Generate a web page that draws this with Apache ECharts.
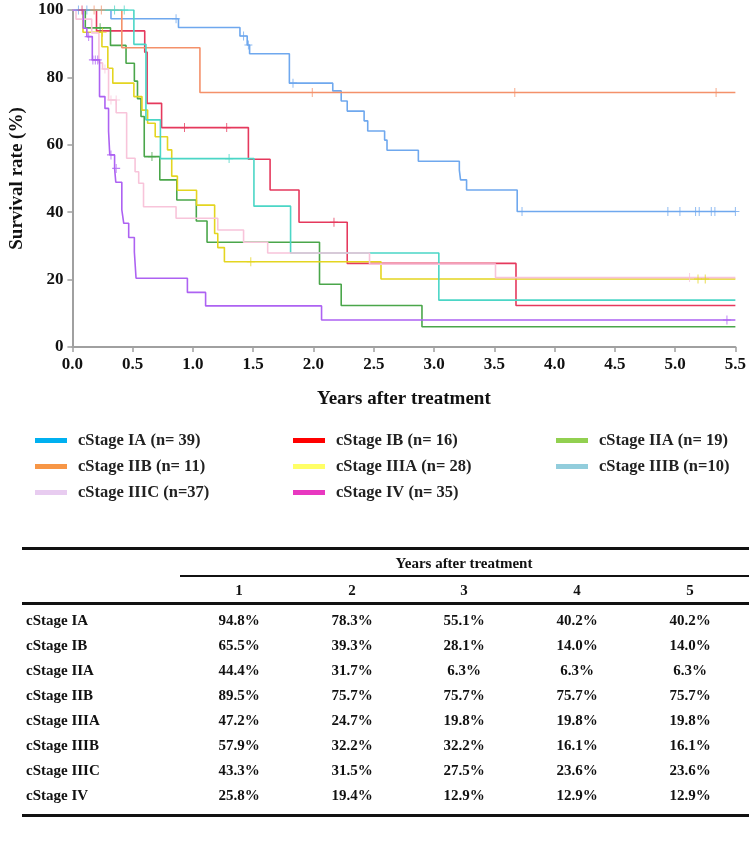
<!DOCTYPE html>
<html>
<head>
<meta charset="utf-8">
<script src="https://cdn.jsdelivr.net/npm/echarts@6/dist/echarts.min.js"></script>
<style>
  html, body { margin:0; padding:0; background:#fff; }
  #wrap { position:relative; width:749px; height:850px; overflow:hidden; }
  #chart { position:absolute; left:0; top:0; width:749px; height:850px; }
  #table { position:absolute; left:0; top:0; width:749px; height:850px; pointer-events:none;
           font-family:"Liberation Serif","Times New Roman",serif; font-weight:bold; font-size:15px; color:#111; }
  .t { position:absolute; white-space:nowrap; line-height:1; }
  .c { transform:translateX(-50%); }
  .hl { position:absolute; background:#111; }
</style>
</head>
<body>
<div id="wrap">
  <div id="chart"></div>
  <div id="table"></div>
</div>
<script>
// ---------------- data ----------------
const xTicks = ['0.0','0.5','1.0','1.5','2.0','2.5','3.0','3.5','4.0','4.5','5.0','5.5'];
const legendNames = ['cStage IA (n= 39)','cStage IB (n= 16)','cStage IIA (n= 19)','cStage IIB (n= 11)',
                     'cStage IIIA (n= 28)','cStage IIIB (n=10)','cStage IIIC (n=37)','cStage IV (n= 35)'];
const legendColors = ['#00b0f0','#ff0000','#92d050','#f79646','#ffff66','#92cddc','#e8ccf0','#e838c0'];
const curveColors  = ['#6fa8ee','#e5395d','#4aa64a','#f4916a','#e4d520','#4bd6c6','#f8c4da','#ad62f2'];

// Kaplan-Meier steps: [years, survival %]
const kmIA   = [[0,100],[0.32,97.4],[0.88,94.8],[1.39,92.3],[1.45,89.6],[1.47,87.0],[1.80,78.3],[2.16,76.0],[2.23,73.0],
                [2.28,70.0],[2.42,67.1],[2.45,64.1],[2.59,61.4],[2.61,58.4],[2.87,55.1],[3.21,52.5],[3.22,49.6],[3.27,46.6],
                [3.69,40.2],[5.5,40.2]];
const kmIB   = [[0,100],[0.20,93.8],[0.60,87.5],[0.62,72.3],[0.74,65.1],[1.46,55.7],[1.64,46.6],[1.88,37.0],[2.28,24.8],
                [3.68,12.3],[5.5,12.3]];
const kmIIA  = [[0,100],[0.107,94.7],[0.316,89.5],[0.445,84.2],[0.514,78.9],[0.54,73.7],[0.569,68.4],[0.596,56.5],
                [0.725,49.6],[0.866,43.6],[1.028,37.4],[1.117,31.1],[2.05,18.6],[2.23,12.3],[2.90,6.0],[5.5,6.0]];
const kmIIB  = [[0,100],[0.41,88.8],[1.058,75.5],[5.5,75.5]];
const kmIIIA = [[0,100],[0.088,93.4],[0.245,89.1],[0.294,82.7],[0.335,78.3],[0.51,74.3],[0.577,70.3],[0.624,66.4],
                [0.687,62.4],[0.789,58.5],[0.824,50.7],[0.871,46.5],[1.03,42.1],[1.18,33.7],[1.206,29.5],[1.261,25.3],
                [2.56,20.2],[5.5,20.2]];
const kmIIIB = [[0,100],[0.51,89.8],[0.61,67.4],[0.73,55.9],[1.506,41.8],[1.81,27.9],[3.04,13.9],[5.5,13.9]];
const kmIIIC = [[0,100],[0.03,97.3],[0.16,93.2],[0.22,84.3],[0.25,82.5],[0.30,73.3],[0.363,69.5],[0.45,56.0],[0.52,52.0],
                [0.55,48.6],[0.59,41.6],[0.86,38.2],[1.206,34.7],[1.42,31.1],[1.62,27.9],[2.465,24.6],[3.51,20.6],[5.5,20.6]];
const kmIV   = [[0,100],[0.09,94.6],[0.12,92.1],[0.165,85.2],[0.225,74.3],[0.27,70.8],[0.30,64.0],[0.31,57.0],[0.35,53.0],
                [0.36,48.9],[0.41,40.7],[0.426,36.7],[0.467,32.5],[0.514,28.2],[0.528,20.4],[0.954,16.2],[1.105,12.2],
                [2.067,8.0],[5.5,8.0]];

// censored observations: [years, survival %]
const cenIA   = [[0.05,100],[0.12,100],[0.86,97.4],[1.42,92.3],[1.46,89.6],[1.83,78.3],[3.73,40.2],[4.94,40.2],[5.04,40.2],
                 [5.17,40.2],[5.20,40.2],[5.30,40.2],[5.33,40.2],[5.5,40.2]];
const cenIB   = [[0.08,100],[0.93,65.1],[1.28,65.1],[2.17,37.0]];
const cenIIA  = [[0.23,94.7],[0.66,56.5]];
const cenIIB  = [[0.18,100],[0.24,100],[1.99,75.5],[3.67,75.5],[5.34,75.5]];
const cenIIIA = [[0.25,93.4],[1.48,25.3],[5.19,20.2],[5.25,20.2]];
const cenIIIB = [[0.35,100],[0.43,100],[1.30,55.9]];
const cenIIIC = [[0.27,82.5],[0.32,73.3],[0.363,73.3],[5.12,20.6]];
const cenIV   = [[0.135,92.1],[0.17,85.2],[0.19,85.2],[0.21,85.2],[0.32,57.0],[0.363,53.0],[5.43,8.0]];

// table
const tableYears = ['1','2','3','4','5'];
const tableRows  = ['cStage IA','cStage IB','cStage IIA','cStage IIB','cStage IIIA','cStage IIIB','cStage IIIC','cStage IV'];
const tIA   = ['94.8%','78.3%','55.1%','40.2%','40.2%'];
const tIB   = ['65.5%','39.3%','28.1%','14.0%','14.0%'];
const tIIA  = ['44.4%','31.7%','6.3%','6.3%','6.3%'];
const tIIB  = ['89.5%','75.7%','75.7%','75.7%','75.7%'];
const tIIIA = ['47.2%','24.7%','19.8%','19.8%','19.8%'];
const tIIIB = ['57.9%','32.2%','32.2%','16.1%','16.1%'];
const tIIIC = ['43.3%','31.5%','27.5%','23.6%','23.6%'];
const tIV   = ['25.8%','19.4%','12.9%','12.9%','12.9%'];

// ---------------- chart ----------------
const km  = [kmIA, kmIB, kmIIA, kmIIB, kmIIIA, kmIIIB, kmIIIC, kmIV];
const cen = [cenIA, cenIB, cenIIA, cenIIB, cenIIIA, cenIIIB, cenIIIC, cenIV];
const FONT = '"Liberation Serif","Times New Roman",serif';
const crossPath = 'path://M-0.6,-5H0.6V-0.6H5V0.6H0.6V5H-0.6V0.6H-5V-0.6H-0.6Z';

const series = [];
km.forEach((d, i) => {
  series.push({ name: 'curve' + i, type: 'line', step: 'end', data: d, symbol: 'none',
    lineStyle: { color: curveColors[i], width: 1.6 }, itemStyle: { color: curveColors[i] },
    silent: true, z: 2 + i, animation: false });
  series.push({ name: 'cens' + i, type: 'scatter', data: cen[i], symbol: crossPath, symbolSize: [8, 9],
    itemStyle: { color: curveColors[i] }, silent: true, z: 10, animation: false });
});
legendNames.forEach((n, i) => {
  series.push({ name: n, type: 'line', data: [], itemStyle: { color: legendColors[i] },
    lineStyle: { color: legendColors[i] } });
});

const legendBase = {
  orient: 'vertical', itemWidth: 32, itemHeight: 5, itemGap: 9, icon: 'rect', selectedMode: false,
  textStyle: { fontFamily: FONT, fontWeight: 'bold', fontSize: 16.5, color: '#222', padding: [0, 0, 0, 6] }
};

const option = {
  animation: false,
  grid: { left: 71, right: 10, top: 10, bottom: 503 },
  legend: [
    Object.assign({}, legendBase, { left: 30, top: 427, data: [legendNames[0], legendNames[3], legendNames[6]] }),
    Object.assign({}, legendBase, { left: 288, top: 427, data: [legendNames[1], legendNames[4], legendNames[7]] }),
    Object.assign({}, legendBase, { left: 551, top: 427, data: [legendNames[2], legendNames[5]] })
  ],
  xAxis: {
    type: 'value', min: 0, max: 5.5, interval: 0.5,
    name: 'Years after treatment', nameLocation: 'middle', nameGap: 43,
    nameTextStyle: { fontFamily: FONT, fontWeight: 'bold', fontSize: 19, color: '#111' },
    axisLine: { lineStyle: { color: '#a0a0a0', width: 2 } },
    axisTick: { show: true, length: 5, lineStyle: { color: '#a0a0a0', width: 1.5 } },
    axisLabel: { margin: 9, fontFamily: FONT, fontWeight: 'bold', fontSize: 17, color: '#111',
      formatter: v => xTicks[Math.round(v / 0.5)] },
    splitLine: { show: false }
  },
  yAxis: {
    type: 'value', min: 0, max: 100, interval: 20,
    name: 'Survival rate (%)', nameLocation: 'middle', nameGap: 44, nameRotate: 90,
    nameTextStyle: { fontFamily: FONT, fontWeight: 'bold', fontSize: 19, color: '#111' },
    axisLine: { show: true, lineStyle: { color: '#a0a0a0', width: 2 } },
    axisTick: { show: true, length: 5, lineStyle: { color: '#a0a0a0', width: 1.5 } },
    axisLabel: { margin: 9, fontFamily: FONT, fontWeight: 'bold', fontSize: 17, color: '#111' },
    splitLine: { show: false }
  },
  series: series
};
const chart = echarts.init(document.getElementById('chart'), null, { renderer: 'canvas' });
chart.setOption(option);

// ---------------- table (HTML) ----------------
const tbl = document.getElementById('table');
function addText(txt, x, y, center) {
  const d = document.createElement('div');
  d.className = 't' + (center ? ' c' : '');
  d.style.left = x + 'px'; d.style.top = y + 'px';
  d.textContent = txt; tbl.appendChild(d);
}
function addLine(x, y, w, h) {
  const d = document.createElement('div');
  d.className = 'hl';
  d.style.left = x + 'px'; d.style.top = y + 'px'; d.style.width = w + 'px'; d.style.height = h + 'px';
  tbl.appendChild(d);
}
const colX = [239, 352, 464, 577, 690];
const rowVals = [tIA, tIB, tIIA, tIIB, tIIIA, tIIIB, tIIIC, tIV];
addLine(22, 547, 727, 3);
addText('Years after treatment', 464, 556, true);
addLine(180, 575, 569, 1.5);
tableYears.forEach((y, i) => addText(y, colX[i], 583, true));
addLine(22, 602, 727, 3);
tableRows.forEach((r, i) => {
  const y = 613 + i * 25;
  addText(r, 26, y, false);
  rowVals[i].forEach((v, j) => addText(v, colX[j], y, true));
});
addLine(22, 814, 727, 3);
</script>
</body>
</html>
